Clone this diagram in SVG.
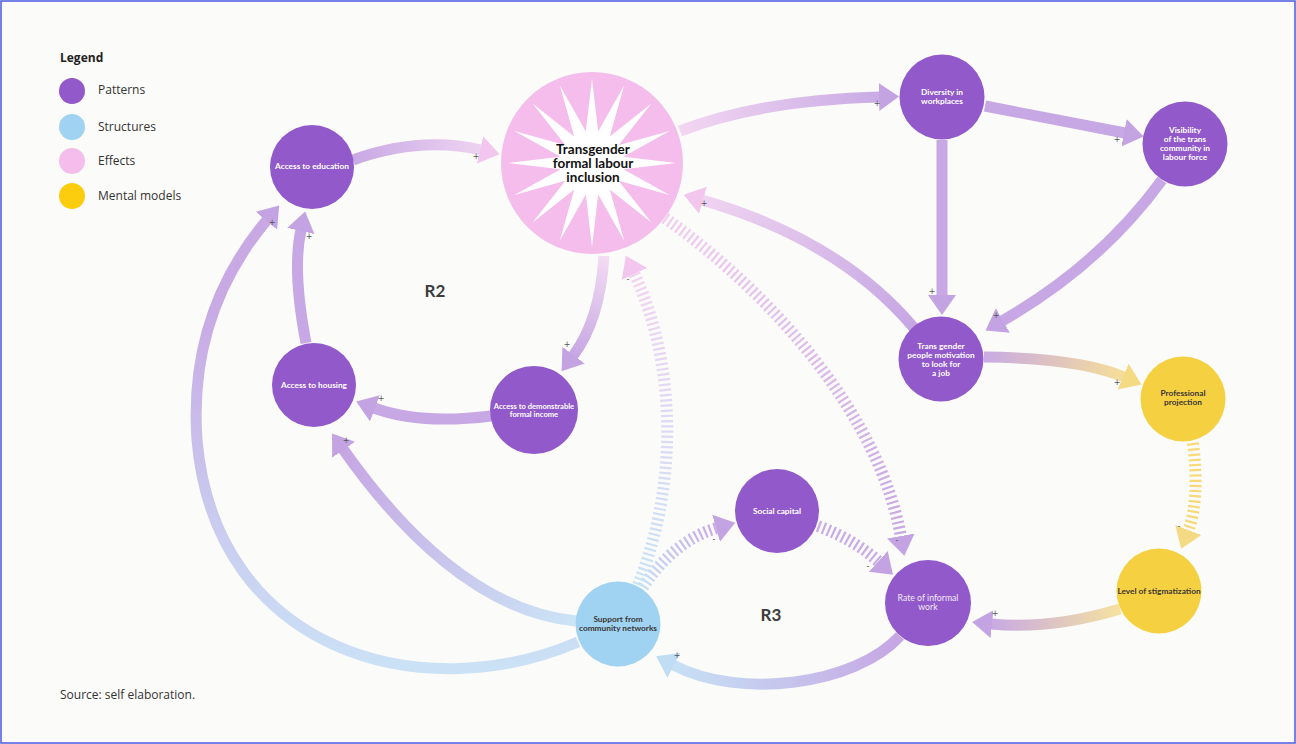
<svg xmlns="http://www.w3.org/2000/svg" width="1296" height="744" viewBox="0 0 1296 744">
<style>
.bg{fill:#fbfbf9}
.frame{fill:none;stroke:#4a5ae0;stroke-width:1.5}
.leg{font-family:"Open Sans",sans-serif;font-size:12px;fill:#333}
.legt{font-family:"Open Sans",sans-serif;font-size:12px;font-weight:700;fill:#222}
.src{font-family:"Open Sans",sans-serif;font-size:12px;fill:#333}
.loop{font-family:Lato,"Open Sans",sans-serif;font-size:17px;font-weight:700;fill:#3d3d3d;text-anchor:middle}
.pat{fill:#9159c9}
.str{fill:#9fd3f1}
.eff{fill:#f4bdeb}
.men{fill:#f5d142}
.lbl{font-family:Lato,"Open Sans",sans-serif;font-size:8.3px;font-weight:700;fill:#fff;text-anchor:middle}
.lblr{font-family:Lato,"Open Sans",sans-serif;font-size:8.7px;font-weight:400;fill:#f3eaf9;text-anchor:middle}
.dk{fill:#3b3535}
.big{font-family:Lato,"Open Sans",sans-serif;font-size:13.5px;font-weight:700;fill:#111;text-anchor:middle}
.c{fill:none;stroke-width:11}
.d{fill:none;stroke-width:12;stroke-dasharray:2.2 3}
.sg{font-family:"DejaVu Sans",sans-serif;font-size:8px;fill:#555;text-anchor:middle}
</style>
<defs>
<marker id="hL" markerUnits="userSpaceOnUse" markerWidth="22" markerHeight="30" refX="1" refY="15" orient="auto" viewBox="0 0 22 30"><path d="M0,1 L20,15 L0,29 Z" fill="#c4a3e2"/></marker>
<marker id="hP" markerUnits="userSpaceOnUse" markerWidth="22" markerHeight="30" refX="1" refY="15" orient="auto" viewBox="0 0 22 30"><path d="M0,1 L20,15 L0,29 Z" fill="#f2c6ee"/></marker>
<marker id="hY" markerUnits="userSpaceOnUse" markerWidth="22" markerHeight="30" refX="1" refY="15" orient="auto" viewBox="0 0 22 30"><path d="M0,1 L20,15 L0,29 Z" fill="#f5da84"/></marker>
<marker id="hB" markerUnits="userSpaceOnUse" markerWidth="22" markerHeight="30" refX="1" refY="15" orient="auto" viewBox="0 0 22 30"><path d="M0,1 L20,15 L0,29 Z" fill="#c0ddf4"/></marker>
<linearGradient id="g1" gradientUnits="userSpaceOnUse" x1="353" y1="160" x2="482" y2="150"><stop offset="0" stop-color="#c8a9e4"/><stop offset="1" stop-color="#efd3f1"/></linearGradient>
<linearGradient id="g2" gradientUnits="userSpaceOnUse" x1="680" y1="131" x2="881" y2="97"><stop offset="0" stop-color="#f3d6f2"/><stop offset="1" stop-color="#c9abe5"/></linearGradient>
<linearGradient id="g6" gradientUnits="userSpaceOnUse" x1="914" y1="328" x2="700" y2="199"><stop offset="0" stop-color="#c6a6e3"/><stop offset="1" stop-color="#f0d4f1"/></linearGradient>
<linearGradient id="g7" gradientUnits="userSpaceOnUse" x1="984" y1="357" x2="1126" y2="378"><stop offset="0" stop-color="#c9aae4"/><stop offset="1" stop-color="#f6df98"/></linearGradient>
<linearGradient id="g9" gradientUnits="userSpaceOnUse" x1="1120" y1="609" x2="990" y2="624"><stop offset="0" stop-color="#f6e1a0"/><stop offset="1" stop-color="#c8a9e4"/></linearGradient>
<linearGradient id="g10" gradientUnits="userSpaceOnUse" x1="900" y1="636" x2="671" y2="664"><stop offset="0" stop-color="#c6a6e3"/><stop offset="1" stop-color="#c6e1f5"/></linearGradient>
<linearGradient id="g11" gradientUnits="userSpaceOnUse" x1="643" y1="587" x2="719" y2="527"><stop offset="0" stop-color="#c8dff5"/><stop offset="1" stop-color="#c8a9e6"/></linearGradient>
<linearGradient id="g13" gradientUnits="userSpaceOnUse" x1="665" y1="218" x2="902" y2="539"><stop offset="0" stop-color="#f2cdf0"/><stop offset="1" stop-color="#c8a8e4"/></linearGradient>
<linearGradient id="g14" gradientUnits="userSpaceOnUse" x1="638" y1="585" x2="633" y2="271"><stop offset="0" stop-color="#c7e2f6"/><stop offset="1" stop-color="#f3d1f1"/></linearGradient>
<linearGradient id="g15" gradientUnits="userSpaceOnUse" x1="604" y1="256" x2="572" y2="358"><stop offset="0" stop-color="#f3dcf3"/><stop offset="1" stop-color="#c6a6e3"/></linearGradient>
<linearGradient id="g18" gradientUnits="userSpaceOnUse" x1="0" y1="690" x2="0" y2="300"><stop offset="0" stop-color="#cbe5f7"/><stop offset="1" stop-color="#c8a9e4"/></linearGradient>
<linearGradient id="g19" gradientUnits="userSpaceOnUse" x1="576" y1="621" x2="342" y2="447"><stop offset="0" stop-color="#cbe4f6"/><stop offset="1" stop-color="#c6a6e3"/></linearGradient>
</defs>
<rect class="bg" x="0" y="0" width="1296" height="744"/>
<rect class="frame" x="1" y="1" width="1294" height="742"/>

<g id="legend">
<text class="legt" x="60" y="62">Legend</text>
<circle class="pat" cx="72" cy="91" r="13"/><text class="leg" x="98" y="94">Patterns</text>
<circle class="str" cx="72" cy="127" r="13"/><text class="leg" x="98" y="131">Structures</text>
<circle class="eff" cx="72" cy="161" r="13"/><text class="leg" x="98" y="165">Effects</text>
<circle cx="72" cy="196" r="13" fill="#fbcd0e"/><text class="leg" x="98" y="200">Mental models</text>
</g>

<g id="connectors">
<path class="c" stroke="url(#g1)" marker-end="url(#hP)" d="M353,160 Q420,136 481,150"/>
<path class="c" stroke="url(#g2)" marker-end="url(#hL)" d="M680,131 Q760,100 880,97"/>
<path class="c" stroke="#c7a7e4" marker-end="url(#hL)" d="M985,106 L1125,133"/>
<path class="c" stroke="#c7a7e4" marker-end="url(#hL)" d="M942,140 L942,296"/>
<path class="c" stroke="#c7a7e4" marker-end="url(#hL)" d="M1162,180 Q1100,265 1002,321"/>
<path class="c" stroke="url(#g6)" marker-end="url(#hP)" d="M914,328 Q840,240 702,200"/>
<path class="c" stroke="url(#g7)" marker-end="url(#hY)" d="M984,357 Q1080,358 1124,377"/>
<path class="d" stroke="#f7d97a" marker-end="url(#hY)" d="M1193,443 Q1200,500 1188,531"/>
<path class="c" stroke="url(#g9)" marker-end="url(#hL)" d="M1120,609 Q1050,630 991,624"/>
<path class="c" stroke="url(#g10)" marker-end="url(#hB)" d="M900,636 C855,685 740,700 673,665"/>
<path class="d" stroke="url(#g11)" marker-end="url(#hL)" d="M643,587 Q675,540 717,528"/>
<path class="d" stroke="#c9abe6" marker-end="url(#hL)" d="M818,526 Q855,540 879,562"/>
<path class="d" stroke="url(#g13)" marker-end="url(#hL)" d="M665,218 C780,300 880,420 901,537"/>
<path class="d" stroke="url(#g14)" marker-end="url(#hP)" d="M638,585 C680,480 675,360 634,273"/>
<path class="c" stroke="url(#g15)" marker-end="url(#hL)" d="M604,256 Q600,320 573,356"/>
<path class="c" stroke="#c7a7e4" marker-end="url(#hL)" d="M491,416 Q420,425 374,408"/>
<path class="c" stroke="#c7a7e4" marker-end="url(#hL)" d="M306,343 Q292,270 301,230"/>
<path class="c" stroke="url(#g18)" marker-end="url(#hL)" d="M578,642 C420,710 215,650 197,440 C190,340 225,270 267,220"/>
<path class="c" stroke="url(#g19)" marker-end="url(#hL)" d="M576,621 C480,612 400,530 343,449"/>
<text class="sg" x="476" y="159">+</text>
<text class="sg" x="877" y="106">+</text>
<text class="sg" x="1117" y="142">+</text>
<text class="sg" x="932" y="294">+</text>
<text class="sg" x="996" y="318">+</text>
<text class="sg" x="704" y="206">+</text>
<text class="sg" x="1117" y="385">+</text>
<text class="sg" x="1179" y="529">-</text>
<text class="sg" x="995" y="616">+</text>
<text class="sg" x="677" y="658">+</text>
<text class="sg" x="714" y="542">-</text>
<text class="sg" x="868" y="569">-</text>
<text class="sg" x="897" y="543">-</text>
<text class="sg" x="628" y="282">-</text>
<text class="sg" x="567" y="347">+</text>
<text class="sg" x="381" y="401">+</text>
<text class="sg" x="309" y="239">+</text>
<text class="sg" x="272" y="225">+</text>
<text class="sg" x="346" y="443">+</text>
</g>

<g id="n-trans">
<circle class="eff" cx="592" cy="163" r="91"/>
<polygon fill="#fff" points="592,79 598.2,131.6 624.1,85.4 609.8,136.4 651.4,103.6 618.6,145.2 669.6,130.9 623.4,156.8 676,163 623.4,169.2 669.6,195.1 618.6,180.8 651.4,222.4 609.8,189.6 624.1,240.6 598.2,194.4 592,247 585.8,194.4 559.9,240.6 574.2,189.6 532.6,222.4 565.4,180.8 514.4,195.1 560.6,169.2 508,163 560.6,156.8 514.4,130.9 565.4,145.2 532.6,103.6 574.2,136.4 559.9,85.4 585.8,131.6"/>
<text class="big" x="593" y="154">Transgender</text>
<text class="big" x="593" y="168">formal labour</text>
<text class="big" x="593" y="182">inclusion</text>
</g>
<g id="n-edu"><circle class="pat" cx="312" cy="167" r="42"/><text class="lbl" x="312" y="169">Access to education</text></g>
<g id="n-div"><circle class="pat" cx="942" cy="97" r="42.5"/><text class="lbl" x="942" y="95">Diversity in</text><text class="lbl" x="942" y="104">workplaces</text></g>
<g id="n-vis"><circle class="pat" cx="1185" cy="144" r="42.5"/><text class="lbl" x="1185" y="133">Visibility</text><text class="lbl" x="1185" y="142">of the trans</text><text class="lbl" x="1185" y="151">community in</text><text class="lbl" x="1185" y="160">labour force</text></g>
<g id="n-mot"><circle class="pat" cx="941" cy="359" r="42.5"/><text class="lbl" x="941" y="349">Trans gender</text><text class="lbl" x="941" y="358">people motivation</text><text class="lbl" x="941" y="367">to look for</text><text class="lbl" x="941" y="376">a job</text></g>
<g id="n-prof"><circle class="men" cx="1183" cy="399" r="42.5"/><text class="lbl dk" x="1183" y="396">Professional</text><text class="lbl dk" x="1183" y="405">projection</text></g>
<g id="n-stig"><circle class="men" cx="1159" cy="591" r="42.5"/><text class="lbl dk" x="1159" y="594">Level of stigmatization</text></g>
<g id="n-rate"><circle class="pat" cx="928" cy="603" r="43"/><text class="lblr" x="928" y="601">Rate of informal</text><text class="lblr" x="928" y="610">work</text></g>
<g id="n-soc"><circle class="pat" cx="777" cy="511" r="42"/><text class="lbl" x="777" y="514">Social capital</text></g>
<g id="n-sup"><circle class="str" cx="618" cy="624" r="42.5"/><text class="lbl dk" x="618" y="622">Support from</text><text class="lbl dk" x="618" y="631">community networks</text></g>
<g id="n-demo"><circle class="pat" cx="534" cy="410" r="44"/><text class="lbl" x="534" y="409" style="font-size:7.6px">Access to demonstrable</text><text class="lbl" x="534" y="417" style="font-size:7.6px">formal income</text></g>
<g id="n-house"><circle class="pat" cx="314" cy="385" r="42"/><text class="lbl" x="314" y="388">Access to housing</text></g>

<text class="loop" x="435" y="297">R2</text>
<text class="loop" x="771" y="621">R3</text>
<text class="src" x="60" y="699">Source: self elaboration.</text>
</svg>
